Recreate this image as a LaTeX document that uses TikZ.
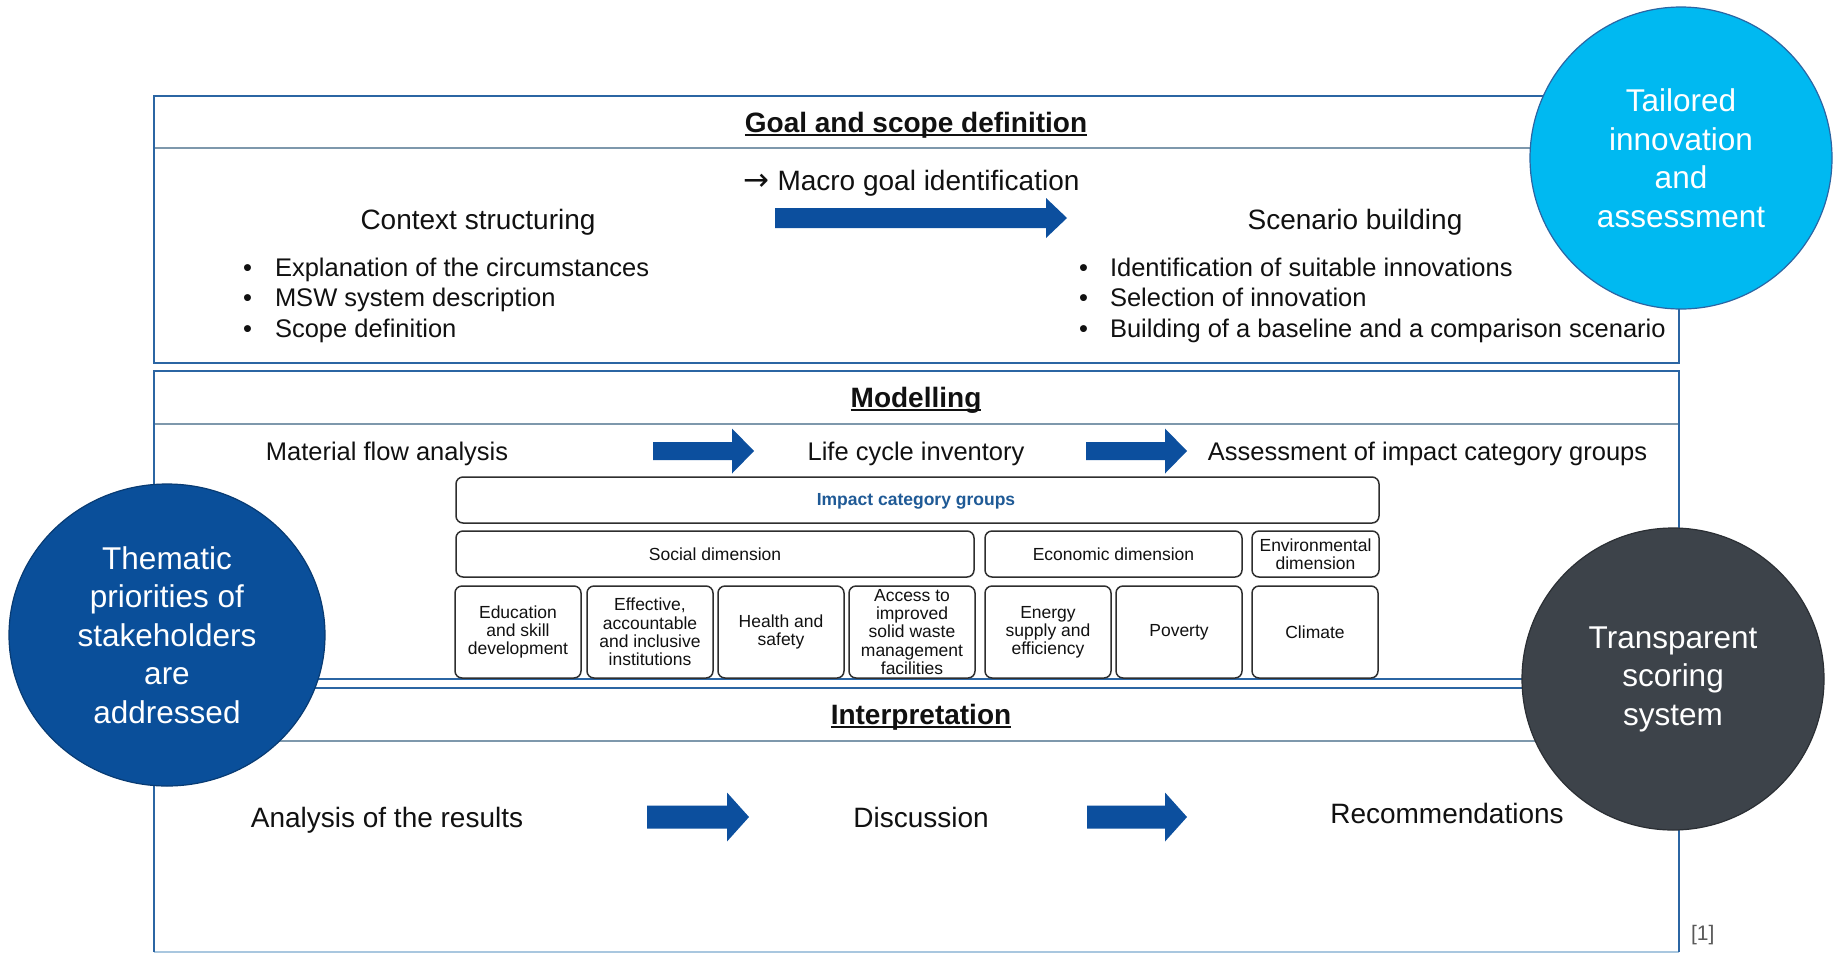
\documentclass[tikz,border=0pt]{standalone}
\usepackage{fontspec}
\setmainfont{Liberation Sans}
\newfontfamily\arrowfont{DejaVu Sans}
\usetikzlibrary{shapes.geometric}

\definecolor{panelblue}{HTML}{2B65A3}
\definecolor{seprule}{HTML}{7E98AC}
\definecolor{panelfoot}{HTML}{A9C7DF}
\definecolor{arrowblue}{HTML}{0C4F9E}
\definecolor{deepblue}{HTML}{0A4F9A}
\definecolor{skyblue}{HTML}{00B9F1}
\definecolor{slate}{HTML}{3D434A}
\definecolor{boxline}{HTML}{2E2E2E}
\definecolor{labelblue}{HTML}{1F5A96}
\definecolor{inktext}{HTML}{111111}

% block arrow: x-start, x-tip, y-centre, shaft half height, head half height, head length
\newcommand{\blockarrow}[6]{%
  \fill[arrowblue] (#1,#3-#4) -- (#2-#6,#3-#4) -- (#2-#6,#3-#5) -- (#2,#3)
    -- (#2-#6,#3+#5) -- (#2-#6,#3+#4) -- (#1,#3+#4) -- cycle;}

\begin{document}
\begin{tikzpicture}[x=1pt,y=-1pt,
  every node/.style={inner sep=0pt, outer sep=0pt, text=inktext},
  panel/.style={draw=panelblue, line width=2pt},
  sep/.style={draw=seprule, line width=1.2pt},
  title/.style={font=\fontsize{28}{34}\selectfont\bfseries, anchor=base},
  lead/.style={font=\fontsize{28}{34}\selectfont, anchor=base},
  item/.style={font=\fontsize{25.5}{30}\selectfont, anchor=base west},
  flow/.style={font=\fontsize{25.5}{30}\selectfont, anchor=base},
  cellbox/.style={draw=boxline, line width=1.5pt, rounded corners=7pt,
    align=center, font=\fontsize{17.5}{18.2}\selectfont},
  bubble/.style={align=center, text=white, font=\fontsize{31.5}{38.5}\selectfont,
    line width=1.2pt},
  uline/.style={line width=2pt, draw=inktext},
]
\fill[white] (0,0) rectangle (1833,954);
\useasboundingbox (0,0) rectangle (1833,954);

% ---------- Goal and scope definition ----------
\draw[panel] (154,96) rectangle (1679,363);
\draw[sep] (155,148) -- (1678,148);
\node[title] (goal) at (916,132) {Goal and scope definition};
\draw[uline] ([yshift=-3pt]goal.base west) -- ([yshift=-3pt]goal.base east);

\node[lead] (macro) at (911.5,190) {{\arrowfont\fontsize{31}{34}\selectfont →}\hspace{8pt}Macro goal identification};
\blockarrow{775}{1067}{218}{10}{20}{21}

\node[lead] (context) at (478,229) {Context structuring};
\node[lead] (scenario) at (1355,229) {Scenario building};

\node[item] (b1) at (243,276) {•};
\node[item] (l1) at (275,276) {Explanation of the circumstances};
\node[item] (b2) at (243,306.5) {•};
\node[item] (l2) at (275,306.5) {MSW system description};
\node[item] (b3) at (243,337) {•};
\node[item] (l3) at (275,337) {Scope definition};

\node[item] (b4) at (1079,276) {•};
\node[item] (r1) at (1110,276) {Identification of suitable innovations};
\node[item] (b5) at (1079,306.5) {•};
\node[item] (r2) at (1110,306.5) {Selection of innovation};
\node[item] (b6) at (1079,337) {•};
\node[item] (r3) at (1110,337) {Building of a baseline and a comparison scenario};

% ---------- Modelling ----------
\draw[panel] (154,371) rectangle (1679,679);
\draw[sep] (155,424) -- (1678,424);
\node[title] (model) at (916,407) {Modelling};
\draw[uline] ([yshift=-3pt]model.base west) -- ([yshift=-3pt]model.base east);

\node[flow] (mfa) at (387,460) {Material flow analysis};
\blockarrow{653}{754}{451}{9}{22.5}{22}
\node[flow] (lci) at (916,460) {Life cycle inventory};
\blockarrow{1086}{1187}{451}{9}{22.5}{22}
\node[flow] (assess) at (1427.5,460) {Assessment of impact category groups};

% impact category table
\node[cellbox, minimum width=923pt, minimum height=46pt] (groups) at (917.5,500) {};
\node[font=\fontsize{17.5}{20}\selectfont\bfseries, text=labelblue, anchor=base]
  (groupslbl) at (916,505) {Impact category groups};

\node[cellbox, minimum width=518pt, minimum height=46pt] (social) at (715,554) {Social dimension};
\node[cellbox, minimum width=257pt, minimum height=46pt] (economic) at (1113.5,554) {Economic dimension};
\node[cellbox, minimum width=127pt, minimum height=46pt] (environ) at (1315.5,554) {Environmental\\dimension};

\node[cellbox, minimum width=126pt, minimum height=92pt] (edu) at (518,632) {Education\\and skill\\development};
\node[cellbox, minimum width=126pt, minimum height=92pt] (inst) at (650,632) {Effective,\\accountable\\and inclusive\\institutions};
\node[cellbox, minimum width=126pt, minimum height=92pt] (health) at (781,632) {Health and\\safety};
\node[cellbox, minimum width=126pt, minimum height=92pt] (access) at (912,632) {Access to\\improved\\solid waste\\management\\facilities};
\node[cellbox, minimum width=126pt, minimum height=92pt] (energy) at (1048,632) {Energy\\supply and\\efficiency};
\node[cellbox, minimum width=126pt, minimum height=92pt] (poverty) at (1179,632) {Poverty};
\node[cellbox, minimum width=126pt, minimum height=92pt] (climate) at (1315,632) {Climate};

% ---------- Interpretation ----------
\draw[draw=panelfoot, line width=1.5pt] (154,952) -- (1679,952);
\draw[panel, line width=1.5pt] (154,952) -- (154,688) -- (1679,688) -- (1679,952);
\draw[panel] (154,688) -- (1679,688);
\draw[sep] (155,741) -- (1678,741);
\node[title] (interp) at (921,724) {Interpretation};
\draw[uline] ([yshift=-3pt]interp.base west) -- ([yshift=-3pt]interp.base east);

\node[lead] (results) at (387,827) {Analysis of the results};
\blockarrow{647}{749}{817}{11.5}{24.5}{22}
\node[lead] (discuss) at (921,827) {Discussion};
\blockarrow{1087}{1187}{817}{11.5}{24.5}{22}
\node[lead] (recomm) at (1447,823) {Recommendations};

\node[font=\fontsize{21}{25}\selectfont, text=black!65, anchor=base west] (ref) at (1691,940) {[1]};

% ---------- highlight bubbles ----------
\node[bubble, ellipse, fill=deepblue, draw=deepblue!75!black,
  minimum width=316pt, minimum height=302pt] (thematic) at (167,635)
  {Thematic\\priorities of\\stakeholders\\are\\addressed};
\node[bubble, circle, fill=skyblue, draw=panelblue,
  minimum size=302pt] (tailored) at (1681,158)
  {Tailored\\innovation\\and\\assessment};
\node[bubble, circle, fill=slate, draw=slate!70!black,
  minimum size=302pt] (scoring) at (1673,679)
  {Transparent\\scoring\\system};
\end{tikzpicture}
\end{document}
